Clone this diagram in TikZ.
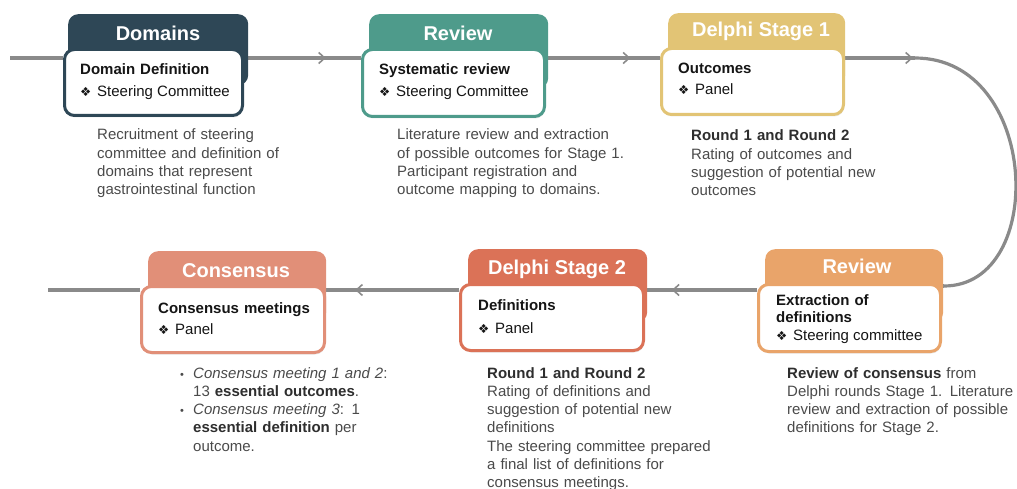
\documentclass[tikz,border=0pt]{standalone}
\usepackage{fontspec}
\setmainfont{Liberation Sans}
\newfontfamily\dingfont{DejaVu Sans}
\usetikzlibrary{arrows.meta,decorations.markings,shadows}
\pgfdeclarelayer{bg}
\pgfsetlayers{bg,main}

\definecolor{cDom}{HTML}{2E4756}
\definecolor{cRev}{HTML}{4E9B8B}
\definecolor{cDelA}{HTML}{E2C475}
\definecolor{cRevB}{HTML}{E9A46A}
\definecolor{cDelB}{HTML}{DB7257}
\definecolor{cCons}{HTML}{E18F78}
\definecolor{flowgray}{HTML}{8A8A8A}
\definecolor{desc}{HTML}{4A4A4A}
\definecolor{ink}{HTML}{151515}
\definecolor{inkb}{HTML}{2E2E2E}

\newcommand{\dia}{\makebox[17pt][l]{\dingfont\fontsize{12.5}{15}\selectfont ❖}}
\newcommand{\blt}{\makebox[13pt][l]{\fontsize{11}{13}\selectfont•}}

\tikzset{
  tabbox/.style={rectangle, rounded corners=10pt, inner sep=0pt, anchor=north west},
  card/.style={rectangle, rounded corners=10pt, fill=white, line width=3pt,
    inner sep=0pt, anchor=north west,
    drop shadow={opacity=0.18, shadow xshift=0.8pt, shadow yshift=-2pt}},
  tabtitle/.style={anchor=base, inner sep=0pt, text=white,
    font=\fontsize{20}{24}\selectfont\bfseries},
  cardhead/.style={anchor=base west, inner sep=0pt, text=ink, align=left,
    text width=160pt, font=\fontsize{15}{17.5}\selectfont\bfseries},
  carditem/.style={anchor=base west, inner sep=0pt, text=ink,
    font=\fontsize{15}{18}\selectfont},
  notetext/.style={anchor=base west, inner sep=0pt, text=desc, align=left,
    text width=250pt, font=\fontsize{15}{18.3}\selectfont},
  flow/.style={draw=flowgray, line width=3.2pt},
  arrowat/.style={postaction={decorate}, decoration={markings,
    mark=at position #1 with {\arrow[flowgray, line width=1.6pt]{Straight Barb[length=6pt, width=11pt]}}}}
}

\begin{document}
\begin{tikzpicture}[x=1pt, y=-1pt]
\useasboundingbox (0,0) rectangle (1017,489);

% coloured tabs behind each card
\node[tabbox, fill=cDom,  minimum width=180pt, minimum height=71pt] (h1) at (68,14) {};
\node[tabbox, fill=cRev,  minimum width=179pt, minimum height=74pt] (h2) at (369,14) {};
\node[tabbox, fill=cDelA, minimum width=177pt, minimum height=72pt] (h3) at (668,13) {};
\node[tabbox, fill=cRevB, minimum width=178pt, minimum height=73pt] (h4) at (765,249) {};
\node[tabbox, fill=cDelB, minimum width=179pt, minimum height=73pt] (h5) at (468,249) {};
\node[tabbox, fill=cCons, minimum width=178pt, minimum height=71pt] (h6) at (148,251) {};

% tab titles
\node[tabtitle] (t1) at (158,41) {Domains};
\node[tabtitle] (t2) at (458,41) {Review};
\node[tabtitle] (t3) at (761,37) {Delphi Stage 1};
\node[tabtitle] (t4) at (857,273) {Review};
\node[tabtitle] (t5) at (557,274) {Delphi Stage 2};
\node[tabtitle] (t6) at (236,277) {Consensus};

% white cards
\node[card, draw=cDom,  minimum width=178pt, minimum height=66pt] (w1) at (63,48) {};
\node[card, draw=cRev,  minimum width=182pt, minimum height=67pt] (w2) at (361,48) {};
\node[card, draw=cDelA, minimum width=182pt, minimum height=66pt] (w3) at (660,47) {};
\node[card, draw=cRevB, minimum width=182pt, minimum height=67pt] (w4) at (757,283) {};
\node[card, draw=cDelB, minimum width=183pt, minimum height=66pt] (w5) at (459,283) {};
\node[card, draw=cCons, minimum width=183pt, minimum height=66pt] (w6) at (140,285) {};

% card contents
\node[cardhead] (w1a) at (80,75) {Domain Definition};
\node[carditem] (w1b) at (80,97) {\dia Steering Committee};
\node[cardhead] (w2a) at (379,75) {Systematic review};
\node[carditem] (w2b) at (379,97) {\dia Steering Committee};
\node[cardhead] (w3a) at (678,74) {Outcomes};
\node[carditem] (w3b) at (678,95) {\dia Panel};
\node[cardhead] (w4a) at (776,305) {Extraction of\\definitions};
\node[carditem] (w4b) at (776,340) {\dia Steering committee};
\node[cardhead] (w5a) at (478,310) {Definitions};
\node[carditem] (w5b) at (478,333) {\dia Panel};
\node[cardhead] (w6a) at (158,313) {Consensus meetings};
\node[carditem] (w6b) at (158,334) {\dia Panel};

% descriptions under the cards
\node[notetext] (n1) at (97,140) {Recruitment of steering\\committee and definition of\\domains that represent\\gastrointestinal function};
\node[notetext] (n2) at (397,140) {Literature review and extraction\\of possible outcomes for Stage 1.\\Participant registration and\\outcome mapping to domains.};
\node[notetext] (n3) at (691,141) {\textcolor{inkb}{\bfseries Round 1 and Round 2}\\Rating of outcomes and\\suggestion of potential new\\outcomes};
\node[notetext] (n4) at (787,378) {\textcolor{inkb}{\bfseries Review of consensus} from\\Delphi rounds Stage 1. Literature\\review and extraction of possible\\definitions for Stage 2.};
\node[notetext] (n5) at (487,378) {\textcolor{inkb}{\bfseries Round 1 and Round 2}\\Rating of definitions and\\suggestion of potential new\\definitions\\The steering committee prepared\\a final list of definitions for\\consensus meetings.};
\node[notetext] (n6) at (180,378) {\blt\textit{Consensus meeting 1 and 2}:\\\hspace*{13pt}13 \textcolor{inkb}{\bfseries essential outcomes}.\\\blt\textit{Consensus meeting 3}: 1\\\hspace*{13pt}\textcolor{inkb}{\bfseries essential definition} per\\\hspace*{13pt}outcome.};

% flow line running behind the cards
\coordinate (top) at (10,58);
\coordinate (turnA) at (915,58);
\coordinate (turnB) at (944,286);
\coordinate (low) at (48,290);
\begin{pgfonlayer}{bg}
  \draw[flow] (top) -- (w1.west |- top);
  \draw[flow, arrowat=0.7] (w1.east |- top) -- (w2.west |- top);
  \draw[flow, arrowat=0.74] (w2.east |- top) -- (w3.west |- top);
  \draw[flow, arrowat=0.97] (w3.east |- top) -- (turnA);
  \draw[flow] (turnA) .. controls (1040,58) and (1048,286) .. (turnB);
  \draw[flow] (turnB) -- (w4.east |- turnB);
  \draw[flow, arrowat=0.76] (w4.west |- low) -- (w5.east |- low);
  \draw[flow, arrowat=0.78] (w5.west |- low) -- (w6.east |- low);
  \draw[flow] (w6.west |- low) -- (low);
\end{pgfonlayer}
\end{tikzpicture}
\end{document}
